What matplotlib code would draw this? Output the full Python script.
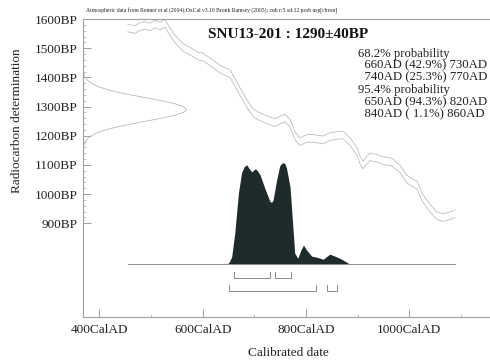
import numpy as np
import matplotlib.pyplot as plt
from matplotlib.ticker import FixedLocator, FixedFormatter

plt.rcParams['font.family'] = ['Liberation Serif', 'DejaVu Serif']

# curva de calibracion (centro en BP)
cal_anos = [455, 469, 478, 488, 498, 508, 517, 527, 533, 546, 562, 575, 591, 600,
            620, 633, 653, 666, 678, 686, 697, 707, 717, 730, 740, 750, 759, 769,
            779, 788, 802, 813, 833, 846, 860, 871, 885, 899, 904, 910, 924, 937,
            949, 966, 982, 995, 1005, 1015, 1024, 1040, 1053, 1065, 1079, 1088]
cal_bp = [1569, 1564, 1574, 1578, 1573, 1583, 1576, 1585, 1566, 1532, 1502, 1490, 1473, 1470,
          1446, 1429, 1412, 1371, 1333, 1309, 1280, 1268, 1260, 1251, 1245, 1254, 1261, 1243,
          1199, 1180, 1191, 1191, 1186, 1197, 1201, 1203, 1180, 1145, 1118, 1100, 1128, 1123,
          1115, 1110, 1086, 1052, 1040, 1031, 991, 952, 926, 920, 926, 933]
cal_sigma = 13

# distribucion de la determinacion radiocarbonica (1290+-40BP)
rc_bp = [1150, 1160, 1170, 1180, 1190, 1200, 1210, 1220, 1230, 1240, 1250, 1260, 1270, 1280,
         1290, 1300, 1310, 1320, 1330, 1340, 1350, 1360, 1370, 1380, 1390, 1400, 1410, 1420, 1430]
rc_dens = [0.002, 0.005, 0.011, 0.023, 0.044, 0.080, 0.135, 0.216, 0.325, 0.458, 0.607, 0.755,
           0.883, 0.969, 1.0, 0.969, 0.883, 0.755, 0.607, 0.458, 0.325, 0.216, 0.135, 0.080,
           0.044, 0.023, 0.011, 0.005, 0.002]

# distribucion calibrada (probabilidad relativa)
post_anos = [646, 651, 656, 662, 669, 675, 680, 685, 690, 695, 699, 702, 706, 711, 720, 730,
             733, 736, 743, 749, 753, 756, 759, 762, 769, 773, 778, 784, 790, 795, 801, 811,
             821, 833, 846, 856, 869, 882, 888]
post_prob = [0.0, 0.02, 0.075, 0.31, 0.70, 0.90, 0.96, 0.98, 0.94, 0.91, 0.93, 0.94, 0.92, 0.88,
             0.75, 0.62, 0.61, 0.63, 0.83, 0.97, 0.995, 1.0, 0.99, 0.95, 0.76, 0.47, 0.11, 0.06,
             0.14, 0.19, 0.14, 0.08, 0.07, 0.05, 0.10, 0.08, 0.05, 0.01, 0.0]

rangos_68 = [(660, 730), (740, 770)]
rangos_95 = [(650, 820), (840, 860)]

textos = ["68.2% probability",
          "  660AD (42.9%) 730AD",
          "  740AD (25.3%) 770AD",
          "95.4% probability",
          "  650AD (94.3%) 820AD",
          "  840AD ( 1.1%) 860AD"]

yticks = [900, 1000, 1100, 1200, 1300, 1400, 1500, 1600]
xticks = [400, 600, 800, 1000]

W, H = 490, 363
fig = plt.figure(figsize=(W / 100, H / 100), dpi=100)
ax = fig.add_axes([83 / W, (H - 316.5) / H, 407 / W, 297.5 / H])

xmin, xmax = 368.1, 1156.1
ax.set_xlim(xmin, xmax)
ax.set_ylim(580.8, 1600)

gris = '#b8b8b8'
cal_bp = np.array(cal_bp)
ax.plot(cal_anos, cal_bp + cal_sigma, color=gris, lw=0.55)
ax.plot(cal_anos, cal_bp - cal_sigma, color=gris, lw=0.55)

# curva normal sobre el eje y
ax.plot(xmin + np.array(rc_dens) * 200.8, rc_bp, color=gris, lw=0.6)

# distribucion calibrada
base = 759.6
ax.plot([cal_anos[0], cal_anos[-1]], [base, base], color='#909090', lw=0.7)
ax.fill_between(post_anos, base, base + np.array(post_prob) * 348, color='#1f2a2b', lw=0)

# rangos
for (a, b) in rangos_68:
    ax.plot([a, a, b, b], [732, 711.7, 711.7, 732], color='#8a8a8a', lw=0.7)
for (a, b) in rangos_95:
    ax.plot([a, a, b, b], [688.7, 669.2, 669.2, 688.7], color='#8a8a8a', lw=0.7)

for s in ['left', 'bottom', 'top']:
    ax.spines[s].set_color('#a0a0a0')
    ax.spines[s].set_linewidth(0.8)
ax.spines['right'].set_visible(False)

ax.yaxis.set_major_locator(FixedLocator(yticks))
ax.yaxis.set_major_formatter(FixedFormatter([f"{v}BP" for v in yticks]))
ax.yaxis.set_minor_locator(FixedLocator(list(range(900, 1601, 20))))
ax.xaxis.set_major_locator(FixedLocator(xticks))
ax.xaxis.set_major_formatter(FixedFormatter([f"{v}CalAD" for v in xticks]))
ax.xaxis.set_minor_locator(FixedLocator([500, 700, 900, 1100]))
ax.tick_params(which='major', direction='in', length=5.5, width=0.7, color='#a0a0a0',
               labelsize=9.5, labelcolor='#222222')
ax.tick_params(which='minor', direction='in', length=2.5, width=0.6, color='#b8b8b8')
ax.tick_params(axis='y', which='major', pad=3.8)
ax.tick_params(axis='x', which='major', pad=5.5)

fig.text(17.5 / W, 1 - 121 / H, "Radiocarbon determination", rotation=90,
         ha='center', va='center', fontsize=9.5, color='#222222')
fig.text(288 / W, 1 - 353 / H, "Calibrated date", ha='center', va='center',
         fontsize=9.5, color='#222222')

fig.text(85.5 / W, 1 - 11 / H,
         "Atmospheric data from Reimer et al (2004);OxCal v3.10 Bronk Ramsey (2005); cub r:5 sd:12 prob usp[chron]",
         fontsize=4.1, va='center', color='#222222')
fig.text(288 / W, 1 - 34 / H, "SNU13-201 : 1290\u00b140BP", ha='center', va='center',
         fontsize=11, weight='bold', color='#111111')

for i, t in enumerate(textos):
    fig.text(358 / W, 1 - (53.5 + 12.1 * i) / H, t, va='center', fontsize=9.2, color='#222222')

plt.savefig("out.png", dpi=100)
